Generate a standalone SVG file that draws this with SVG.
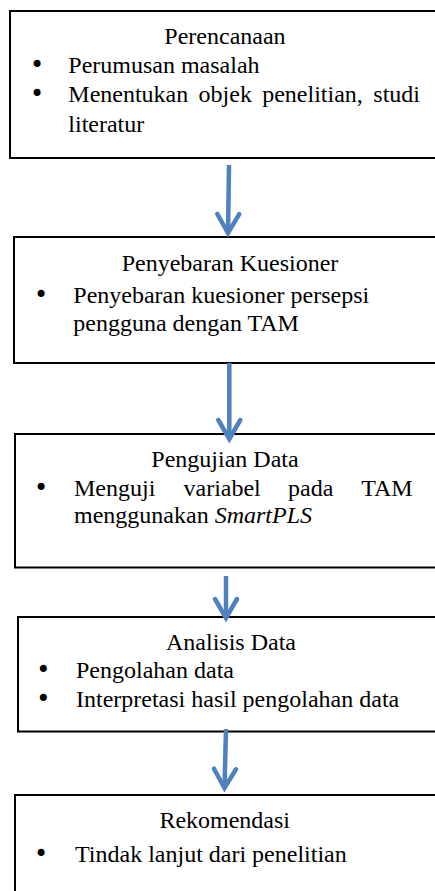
<svg xmlns="http://www.w3.org/2000/svg" width="435" height="891" viewBox="0 0 435 891">
<style>
.box{fill:#fff;stroke:#000;stroke-width:2}
.t{font-family:"Liberation Serif","Times New Roman",serif;font-size:24px;fill:#000}
.c{text-anchor:middle}
.e{text-anchor:end}
.b{text-anchor:middle;font-family:"DejaVu Sans",sans-serif;font-size:24px}
.i{font-style:italic}
.arr{fill:none;stroke:#4F81BD;stroke-width:4.5;marker-end:url(#ah)}
</style>
<defs>
<marker id="ah" markerUnits="userSpaceOnUse" viewBox="-30 -16 36 32" refX="0" refY="0" markerWidth="36" markerHeight="32" orient="auto" overflow="visible">
<path d="M-19,-11 L0,0 L-19,11" fill="none" stroke="#4F81BD" stroke-width="4.5" stroke-linecap="round"/>
</marker>
</defs>
<rect width="435" height="891" fill="#fff"/>
<g id="n1">
<rect class="box" x="10" y="11" width="440" height="147"/>
<text class="t c" x="225" y="44">Perencanaan</text>
<text class="t b" x="37" y="73">•</text>
<text class="t" x="68.3" y="73">Perumusan masalah</text>
<text class="t b" x="37" y="102">•</text>
<text class="t" y="102"><tspan x="68.3">Menentukan</tspan><tspan x="198.6">objek</tspan><tspan x="262.2">penelitian,</tspan></text>
<text class="t e" x="420" y="102">studi</text>
<text class="t" x="68.3" y="131.5">literatur</text>
</g>
<g id="n2">
<rect class="box" x="14" y="237" width="436" height="126"/>
<text class="t c" x="230" y="271">Penyebaran Kuesioner</text>
<text class="t b" x="41" y="303">•</text>
<text class="t" x="73.3" y="303">Penyebaran kuesioner persepsi</text>
<text class="t" x="73.3" y="331">pengguna dengan TAM</text>
</g>
<g id="n3">
<rect class="box" x="15" y="434" width="435" height="133.5"/>
<text class="t c" x="225" y="467">Pengujian Data</text>
<text class="t b" x="41" y="496">•</text>
<text class="t" y="496"><tspan x="74">Menguji</tspan><tspan x="183.5">variabel</tspan><tspan x="288">pada</tspan></text>
<text class="t e" x="412.7" y="496">TAM</text>
<text class="t" x="74" y="523">menggunakan <tspan class="i">SmartPLS</tspan></text>
</g>
<g id="n4">
<rect class="box" x="18" y="617" width="432" height="114.5"/>
<text class="t c" x="231" y="650">Analisis Data</text>
<text class="t b" x="43.3" y="678">•</text>
<text class="t" x="76" y="678">Pengolahan data</text>
<text class="t b" x="43.3" y="707">•</text>
<text class="t" x="76" y="707">Interpretasi hasil pengolahan data</text>
</g>
<g id="n5">
<rect class="box" x="15" y="795" width="435" height="110"/>
<text class="t c" x="224.7" y="828">Rekomendasi</text>
<text class="t b" x="41" y="862">•</text>
<text class="t" x="75" y="862">Tindak lanjut dari penelitian</text>
</g>
<g id="connectors">
<path class="arr" d="M229,165 L228,233"/>
<path class="arr" d="M229.3,363 L229.3,439"/>
<path class="arr" d="M226,576 L226,618"/>
<path class="arr" d="M226,729 L224.5,788"/>
</g>
</svg>
